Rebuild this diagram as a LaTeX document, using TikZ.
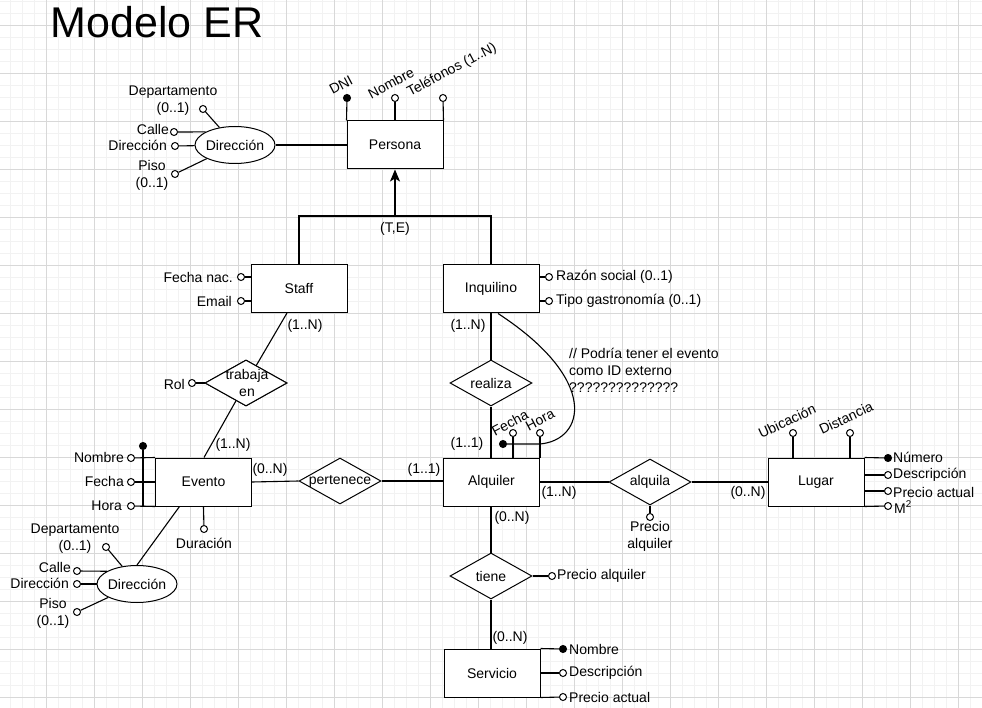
\documentclass[tikz,border=0pt]{standalone}
\usepackage{fontspec}
\setmainfont{Liberation Sans}
\usetikzlibrary{shapes.geometric,arrows.meta}
\definecolor{gminor}{RGB}{242,242,242}
\definecolor{gmajor}{RGB}{216,216,216}
\tikzset{
  ent/.style={draw, rectangle, minimum width=96pt, minimum height=48pt, fill=white, line width=1pt, inner sep=0pt},
  rel/.style={draw, diamond, minimum width=82pt, minimum height=46pt, fill=white, line width=1pt, inner sep=0pt},
  ell/.style={draw, ellipse, minimum width=80pt, minimum height=37pt, fill=white, line width=1pt, inner sep=0pt},
  attr/.style={circle, draw, fill=white, minimum size=7pt, inner sep=0pt, line width=1pt},
  keyattr/.style={circle, draw, fill=black, minimum size=7pt, inner sep=0pt, line width=1pt},
  lab/.style={inner sep=0pt},
  conn/.style={line width=1.1pt},
}
\begin{document}
\begin{tikzpicture}[x=1pt,y=-1pt,font=\fontsize{14}{17}\selectfont]
\useasboundingbox (0,0) rectangle (982,708);
\fill[white] (0,0) rectangle (982,708);
\foreach \x in {10,22,...,982} \draw[gminor,line width=0.8pt] (\x,0) -- (\x,708);
\foreach \y in {1,13,...,708} \draw[gminor,line width=0.8pt] (0,\y) -- (982,\y);
\foreach \x in {46,94,...,982} \draw[gmajor,line width=0.8pt] (\x,0) -- (\x,708);
\foreach \y in {25,73,...,708} \draw[gmajor,line width=0.8pt] (0,\y) -- (982,\y);

% title
\node[lab, font=\fontsize{43}{50}\selectfont] (title) at (157,22) {Modelo ER};

% ---------------- Persona ----------------
\node[ent] (persona) at (395,145) {Persona};
\node[keyattr] (pdni) at (347,98) {};
\node[attr] (pnom) at (395,98) {};
\node[attr] (ptel) at (443,98) {};
\draw[conn] (persona.north west) -- (pdni);
\draw[conn] (persona.north) -- (pnom);
\draw[conn] (persona.north east) -- (ptel);
\node[lab, rotate=28] (pdniL) at (341,85) {DNI};
\node[lab, rotate=28] (pnomL) at (391,83) {Nombre};
\node[lab, rotate=28] (ptelL) at (452,70) {Teléfonos (1..N)};

% Direccion (Persona)
\node[ell] (dir1) at (235,145) {};
\node[lab] (dir1T) at (dir1) {Dirección};
\draw[conn] (dir1) -- (persona);
\node[attr] (d1dep) at (203,109) {};
\node[attr] (d1cal) at (174,132) {};
\node[attr] (d1dir) at (175,146) {};
\node[attr] (d1pis) at (175,174) {};
\draw[conn] (d1dep) -- (dir1);
\draw[conn] (d1cal) -- (dir1.156);
\draw[conn] (d1dir) -- (dir1);
\draw[conn] (d1pis) -- (dir1);
\node[lab, align=center] (d1depL) at (173,101) {Departamento\\(0..1)};
\node[lab, anchor=east] (d1calL) at (169,129) {Calle};
\node[lab, anchor=east] (d1dirL) at (167,145) {Dirección};
\node[lab, align=center] (d1pisL) at (152,175) {Piso\\(0..1)};

% ---------------- Jerarquia ----------------
\node[ent] (staff) at (299,289) {Staff};
\node[ent] (inq) at (491,289) {Inquilino};
\coordinate (isa) at (395,216);
\draw[conn] (staff.north) -- (staff.north |- isa) -- (inq.north |- isa) -- (inq.north);
\draw[conn, -{Stealth[length=12pt,width=10pt,inset=3pt]}] (isa) -- (persona.south);
\node[lab] (te) at (395,229) {(T,E)};

% Staff attributes
\node[attr] (sfn) at (241,277) {};
\node[attr] (sem) at (241,301) {};
\draw[conn] (sfn) -- (staff.west |- sfn);
\draw[conn] (sem) -- (staff.west |- sem);
\node[lab, anchor=east] (sfnL) at (233,277) {Fecha nac.};
\node[lab, anchor=east] (semL) at (232,301) {Email};

% Inquilino attributes
\node[attr] (irs) at (549,277) {};
\node[attr] (itg) at (549,301) {};
\draw[conn] (inq.east |- irs) -- (irs);
\draw[conn] (inq.east |- itg) -- (itg);
\node[lab, anchor=west] (irsL) at (556,277) {Razón social (0..1)};
\node[lab, anchor=west] (itgL) at (556,301) {Tipo gastronomía (0..1)};

% ---------------- Evento ----------------
\node[ent] (evento) at (203.5,482) {Evento};
\coordinate (evStaff) at (287,313);
\node[rel] (trab) at (246,383) {};
\draw[conn] (evStaff) -- (trab.center);
\draw[conn] (trab.center) -- ([xshift=0.5pt]evento.north);
\node[rel] (trab2) at (246,383) {};
\node[lab, align=center] (trabT) at (247,383) {trabaja\\en};
\node[attr] (rol) at (192,383) {};
\draw[conn] (rol) -- (trab2.west);
\node[lab, anchor=east] (rolL) at (185,384) {Rol};
\node[lab] (c1) at (305,326) {(1..N)};
\node[lab] (c2) at (233,445) {(1..N)};

% Evento attributes (composite identifier)
\node[keyattr] (evdot) at (143,446) {};
\node[attr] (evnom) at (131,458) {};
\node[attr] (evfec) at (131,482) {};
\node[attr] (evhor) at (131,506) {};
\draw[conn] (evdot) -- (evdot |- evento.south);
\draw[conn] (evnom) -- (evento.north west);
\draw[conn] (evfec) -- (evento.west);
\draw[conn] (evhor) -- (evento.south west);
\node[lab, anchor=east] (evnomL) at (124,457) {Nombre};
\node[lab, anchor=east] (evfecL) at (124,481) {Fecha};
\node[lab, anchor=east] (evhorL) at (122,506) {Hora};
\node[attr] (evdur) at (204,529) {};
\draw[conn] (evento.south) -- (evdur);
\node[lab] (evdurL) at (204,543) {Duración};

% Direccion (Evento)
\node[ell] (dir2) at (137,584) {};
\node[lab] (dir2T) at (dir2) {Dirección};
\draw[conn] ([xshift=-24pt]evento.south) -- (dir2.north);
\node[attr] (d2dep) at (106,547) {};
\node[attr] (d2cal) at (77,571) {};
\node[attr] (d2dir) at (77,584) {};
\node[attr] (d2pis) at (77,612) {};
\draw[conn] (d2dep) -- (dir2);
\draw[conn] (d2cal) -- (dir2.157);
\draw[conn] (d2dir) -- (dir2);
\draw[conn] (d2pis) -- (dir2);
\node[lab, align=center] (d2depL) at (75,539) {Departamento\\(0..1)};
\node[lab, anchor=east] (d2calL) at (71,567) {Calle};
\node[lab, anchor=east] (d2dirL) at (69,583) {Dirección};
\node[lab, align=center] (d2pisL) at (53,613) {Piso\\(0..1)};

% ---------------- Alquiler ----------------
\node[ent] (alq) at (491.5,482) {Alquiler};
\node[rel] (pert) at (340,481) {};
\node[lab] (pertT) at (340,481) {pertenece};
\draw[conn] (evento.east) -- (pert.west);
\draw[conn] (pert.east) -- (alq.west |- pert.east);
\node[lab] (c3) at (270,470) {(0..N)};
\node[lab] (c4) at (424,470) {(1..1)};

\node[rel] (real) at (491,383) {};
\node[lab] (realT) at (491,383) {realiza};
\draw[conn] (inq.south) -- (real.north);
\draw[conn] (real.south) -- (alq.north -| real.south);
\node[lab] (c5) at (468,326) {(1..N)};
\node[lab] (c6) at (467,444) {(1..1)};

% Alquiler identifier
\node[attr] (afec) at (513,433) {};
\node[attr] (ahor) at (540,433) {};
\draw[conn] (alq.north -| afec) -- (afec);
\draw[conn] (alq.north east) -- (ahor);
\node[lab, rotate=28] (afecL) at (510,423) {Fecha};
\node[lab, rotate=28] (ahorL) at (540,420) {Hora};
\node[keyattr] (adot) at (503,444) {};
\coordinate (ahook) at (540,444);
\draw[conn] (adot) -- (ahook) .. controls (585,440) and (600,380) .. ([xshift=7pt]inq.south);

\node[lab, align=left, anchor=north west] (note) at (569,348) {// Podría tener el evento\\como ID externo\\??????????????};

% alquila / Lugar
\node[ent] (lugar) at (816,482) {Lugar};
\node[rel] (alqla) at (650,482) {};
\node[lab] (alqlaT) at (650,482) {alquila};
\draw[conn] (alq.east) -- (alqla.west);
\draw[conn] (alqla.east) -- (lugar.west);
\node[lab] (c7) at (559,493) {(1..N)};
\node[lab] (c8) at (748,493) {(0..N)};
\node[attr] (apre) at (650,517) {};
\draw[conn] (alqla.south) -- (apre);
\node[lab, align=center] (apreL) at (650,536) {Precio\\alquiler};

% Lugar attributes
\node[attr] (lubi) at (793,433) {};
\node[attr] (ldis) at (850,433) {};
\draw[conn] (lugar.north -| lubi) -- (lubi);
\draw[conn] (lugar.north -| ldis) -- (ldis);
\node[lab, rotate=25] (lubiL) at (787,421) {Ubicación};
\node[lab, rotate=25] (ldisL) at (846,418) {Distancia};
\node[keyattr] (lnum) at (888,458) {};
\node[attr] (ldes) at (888,475) {};
\node[attr] (lpre) at (888,491) {};
\node[attr] (lm2) at (888,506) {};
\draw[conn] (lugar.north east) -- (lnum);
\draw[conn] (lugar.east |- ldes) -- (ldes);
\draw[conn] (lugar.east |- lpre) -- (lpre);
\draw[conn] (lugar.south east) -- (lm2);
\node[lab, anchor=west] (lnumL) at (893,457) {Número};
\node[lab, anchor=west] (ldesL) at (893,475) {Descripción};
\node[lab, anchor=west] (lpreL) at (893,492) {Precio actual};
\node[lab, anchor=west] (lm2L) at (894,507) {M\textsuperscript{2}};

% ---------------- tiene / Servicio ----------------
\node[ent] (serv) at (492,673) {Servicio};
\node[rel] (tiene) at (491,576) {};
\node[lab] (tieneT) at (491,576) {tiene};
\draw[conn] (alq.south -| tiene.north) -- (tiene.north);
\draw[conn] (tiene.south) -- (serv.north -| tiene.south);
\node[lab] (c9) at (512,518) {(0..N)};
\node[lab] (c10) at (510,638) {(0..N)};
\node[attr] (tpre) at (552,576) {};
\draw[conn] (tiene.east) -- (tpre);
\node[lab, anchor=west] (tpreL) at (557,576) {Precio alquiler};

\node[keyattr] (snom) at (563,649) {};
\node[attr] (sdes) at (563,673) {};
\node[attr] (spre) at (563,697) {};
\draw[conn] (serv.north east) -- (snom);
\draw[conn] (serv.east) -- (sdes);
\draw[conn] (serv.south east) -- (spre);
\node[lab, anchor=west] (snomL) at (569,649) {Nombre};
\node[lab, anchor=west] (sdesL) at (569,673) {Descripción};
\node[lab, anchor=west] (spreL) at (569,697) {Precio actual};
\end{tikzpicture}
\end{document}
